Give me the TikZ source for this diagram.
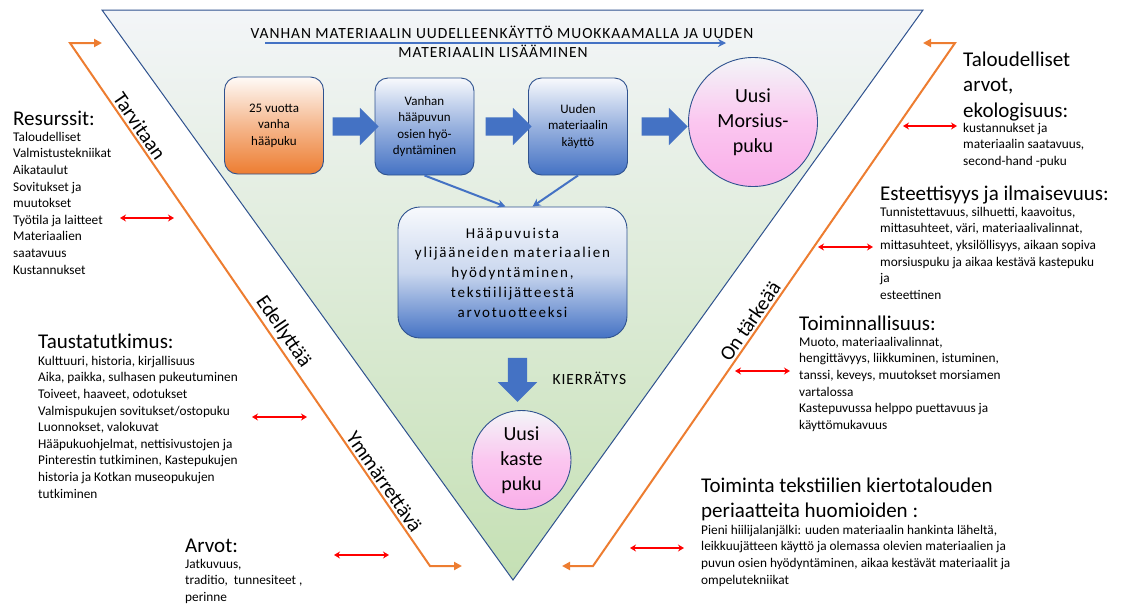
\documentclass[tikz,border=0pt]{standalone}
\usepackage{fontspec}
\setmainfont{Carlito}
\newfontfamily\titlefont{Carlito}[LetterSpace=6]
\newfontfamily\widefont{Carlito}[LetterSpace=12]
\usetikzlibrary{shapes.arrows,arrows.meta}
\definecolor{frameblue}{HTML}{2F528F}
\definecolor{boxblue}{HTML}{4472C4}
\definecolor{lineorange}{HTML}{ED7D31}
\definecolor{paleblue}{HTML}{F3F5F8}
\definecolor{palegreen}{HTML}{C5E0B4}
\definecolor{dresspink}{HTML}{F9AEE9}
\definecolor{arrowred}{HTML}{FF0000}

\begin{document}
\begin{tikzpicture}[x=1pt, y=-1pt,
	stepbox/.style={draw=frameblue, line width=0.9pt, rounded corners=13pt, minimum width=99pt, minimum height=97pt, align=center,
		font=\fontsize{13}{16.5}\selectfont, shade, top color=#1!4!white, bottom color=#1, middle color=#1!55!white},
	dress/.style={draw=frameblue, line width=0.9pt, circle, inner sep=0pt, align=center, font=\fontsize{20}{25}\selectfont,
		shade, top color=paleblue, bottom color=dresspink, middle color=dresspink!70!white},
	blockarr/.style={single arrow, fill=boxblue, inner xsep=0pt, inner ysep=9pt, minimum height=46pt, single arrow head extend=9.5pt},
	hd/.style={anchor=north west, align=left, inner sep=0pt, font=\fontsize{21}{25.5}\selectfont},
	itm/.style={anchor=north west, align=left, inner sep=0pt, font=\fontsize{13.3}{16.6}\selectfont},
	oline/.style={draw=lineorange, line width=2pt, {Triangle[length=8pt,width=8pt]}-{Triangle[length=8pt,width=8pt]}},
	redarr/.style={draw=arrowred, line width=2pt, {Stealth[length=6pt,width=7pt]}-{Stealth[length=6pt,width=7pt]}},
	lab/.style={sloped, above, inner sep=3pt, font=\fontsize{20.5}{24}\selectfont},
	feed/.style={draw=boxblue, line width=2pt, -{Stealth[length=8pt,width=8pt]}}]
	\useasboundingbox (0,0) rectangle (1125,606);

	% funnel
	\coordinate (tl) at (102,10);
	\coordinate (tr) at (923,10);
	\coordinate (apex) at (513,580);
	\path[draw=frameblue, line width=1pt, top color=paleblue, bottom color=palegreen] (tl) -- (tr) -- (apex) -- cycle;

	% title
	\node[anchor=base, font=\titlefont\fontsize{15.5}{19}\selectfont] (ttl1) at (502,38) {VANHAN MATERIAALIN UUDELLEENKÄYTTÖ MUOKKAAMALLA JA UUDEN};
	\node[anchor=base, font=\titlefont\fontsize{15.5}{19}\selectfont] (ttl2) at (493,57) {MATERIAALIN LISÄÄMINEN};
	\coordinate (ts) at (265,43);
	\coordinate (te) at (726,43);
	\draw[feed] (ts) -- (te);

	% steps
	\node[stepbox=lineorange] (old) at (274,125.5) {25 vuotta\\vanha\\hääpuku};
	\node[stepbox=boxblue] (parts) at (424.5,126.5) {Vanhan\\hääpuvun\\osien hyö-\\dyntäminen};
	\node[stepbox=boxblue] (newmat) at (578,126.5) {Uuden\\materiaalin\\käyttö};
	\node[dress, minimum size=129pt] (bride) at (753,122) {Uusi\\Morsius-\\puku};
	\node[blockarr] (a1) at (351,126.5) {};
	\node[blockarr] (a2) at (504,126.5) {};
	\node[blockarr] (a3) at (660,126.5) {};

	\node[stepbox=boxblue, minimum width=229pt, minimum height=131pt, rounded corners=22pt, font=\widefont\fontsize{15}{19.7}\selectfont,
		middle color=boxblue!28!white] (reuse) at (512.5,272.5) {Hääpuvuista\\ylijääneiden materiaalien\\hyödyntäminen,\\tekstiilijätteestä\\arvotuotteeksi};
	\draw[feed] (parts.south) -- ([xshift=-7pt]reuse.north);
	\draw[feed] (newmat.south) -- ([xshift=20pt]reuse.north);

	\node[blockarr, inner ysep=9.5pt, single arrow head extend=10pt, minimum height=44pt, rotate=-90] (down) at (517.5,375) {};
	\node[anchor=west, font=\titlefont\fontsize{15.5}{19}\selectfont] (recyc) at (549,378) {KIERRÄTYS};
	\node[dress, minimum size=99pt] (baby) at (521.5,460) {Uusi\\kaste\\puku};

	% orange brackets
	\coordinate (lt) at (102,43);
	\coordinate (lc) at (70,43);
	\coordinate (lb) at (430,566);
	\coordinate (le) at (462,566);
	\draw[oline] (lt) -- (lc) -- (lb) -- (le);
	\path (lc) -- (lb) node[lab, pos=0.17] (need) {Tarvitaan} node[lab, pos=0.565] (req) {Edellyttää} node[lab, pos=0.85] (und) {Ymmärrettävä};
	\coordinate (rt) at (923,43);
	\coordinate (rc) at (955,43);
	\coordinate (rb) at (593,566);
	\coordinate (re) at (562,566);
	\draw[oline] (rt) -- (rc) -- (rb) -- (re);
	\path (rb) -- (rc) node[lab, pos=0.457] (imp) {On tärkeää};

	% red links
	\foreach \a/\b/\y [count=\i] in {120/174/218, 252/307/417, 334/389/555, 903/957/126, 818/873/247, 735/790/371, 630/684/548}{
		\coordinate (ra\i) at (\a,\y);
		\coordinate (rb\i) at (\b,\y);
		\draw[redarr] (ra\i) -- (rb\i);
	}

	% left texts
	\node[hd] (res) at (13,110.5) {Resurssit:};
	\node[itm] (resl) at (13,131.8) {Taloudelliset\\Valmistustekniikat\\Aikataulut\\Sovitukset ja\\muutokset\\Työtila ja laitteet\\Materiaalien\\saatavuus\\Kustannukset};
	\node[hd] (bg) at (38,334) {Taustatutkimus:};
	\node[itm] (bgl) at (38,355.8) {Kulttuuri, historia, kirjallisuus\\Aika, paikka, sulhasen pukeutuminen\\Toiveet, haaveet, odotukset\\Valmispukujen sovitukset/ostopuku\\Luonnokset, valokuvat\\Hääpukuohjelmat, nettisivustojen ja\\Pinterestin tutkiminen, Kastepukujen\\historia ja Kotkan museopukujen\\tutkiminen};
	\node[hd] (val) at (185,538.4) {Arvot:};
	\node[itm] (vall) at (185,558.8) {Jatkuvuus,\\traditio,\ \ tunnesiteet ,\\perinne};

	% right texts
	\node[hd] (eco) at (963,51.3) {Taloudelliset\\arvot,\\ekologisuus:};
	\node[itm] (ecol) at (963,122.8) {kustannukset ja\\materiaalin saatavuus,\\second-hand -puku};
	\node[hd] (aes) at (880,185.3) {Esteettisyys ja ilmaisevuus:};
	\node[itm] (aesl) at (880,206.8) {Tunnistettavuus, silhuetti, kaavoitus,\\mittasuhteet, väri, materiaalivalinnat,\\mittasuhteet, yksilöllisyys, aikaan sopiva\\morsiuspuku ja aikaa kestävä kastepuku\\ja\\esteettinen};
	\node[hd] (fun) at (799,315.3) {Toiminnallisuus:};
	\node[itm] (funl) at (799,336.8) {Muoto, materiaalivalinnat,\\hengittävyys, liikkuminen, istuminen,\\tanssi, keveys, muutokset morsiamen\\vartalossa\\Kastepuvussa helppo puettavuus ja\\käyttömukavuus};
	\node[hd, font=\fontsize{21}{25}\selectfont] (circ) at (701,477.3) {Toiminta tekstiilien kiertotalouden\\periaatteita huomioiden :};
	\node[itm] (circl) at (701,524.8) {Pieni hiilijalanjälki: uuden materiaalin hankinta läheltä,\\leikkuujätteen käyttö ja olemassa olevien materiaalien ja\\puvun osien hyödyntäminen, aikaa kestävät materiaalit ja\\ompelutekniikat};
\end{tikzpicture}
\end{document}
